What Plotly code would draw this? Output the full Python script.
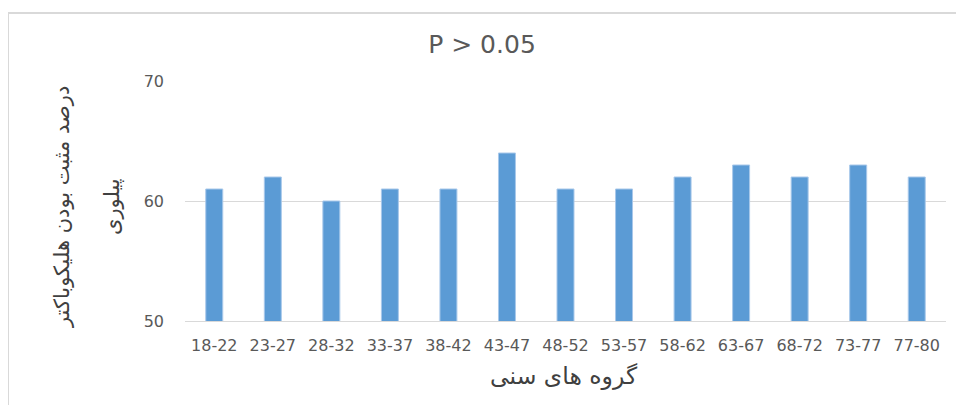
import plotly.graph_objects as go

categories = ["18-22", "23-27", "28-32", "33-37", "38-42", "43-47", "48-52",
              "53-57", "58-62", "63-67", "68-72", "73-77", "77-80"]
values = [61, 62, 60, 61, 61, 64, 61, 61, 62, 63, 62, 63, 62]
title_text = "P > 0.05"
x_title = "گروه های سنی"
y_title_line1 = "درصد مثبت بودن هلیکوباکتر"
y_title_line2 = "پیلوری"

OFF = 8  # page body margin offset
W, H = 964 - OFF, 405 - OFF
ML, MR, MT, MB = 185 - OFF, 18, 81 - OFF, 84
PW = W - ML - MR
PH = H - MT - MB

def px_x(x):
    return (x - OFF - ML) / PW

def px_y(y):
    return (H - MB - (y - OFF)) / PH

fig = go.Figure(go.Bar(
    x=categories, y=values,
    marker=dict(color="#5b9bd5", line=dict(color="#a8c8ea", width=1)),
    width=0.29,
))

fig.update_layout(
    width=W, height=H,
    margin=dict(l=ML, r=MR, t=MT, b=MB),
    paper_bgcolor="white", plot_bgcolor="white",
    showlegend=False,
    font=dict(family="DejaVu Sans", color="#595959"),
    title=dict(text=title_text, x=(482 - OFF) / W, xref="container", xanchor="center",
               y=1 - (44 - OFF) / H, yref="container", yanchor="middle",
               font=dict(size=25, color="#595959", family="DejaVu Sans")),
    xaxis=dict(type="category", showgrid=False, showline=True, linecolor="#d9d9d9",
               linewidth=1, ticks="", tickangle=0, tickfont=dict(size=16, color="#595959"),
               ticklabelstandoff=10),
    yaxis=dict(range=[50, 70], dtick=10, showgrid=True, gridcolor="#d9d9d9", gridwidth=1,
               zeroline=False, showline=False, ticks="",
               tickfont=dict(size=16, color="#595959"), ticklabelstandoff=20),
    annotations=[
        dict(text=x_title, xref="paper", yref="paper", x=px_x(564), y=px_y(376),
             xanchor="center", yanchor="middle", showarrow=False,
             font=dict(size=23.5, color="#404040", family="DejaVu Sans")),
        dict(text=y_title_line1, xref="paper", yref="paper", x=px_x(62), y=px_y(207),
             xanchor="center", yanchor="middle", showarrow=False, textangle=-90,
             font=dict(size=21, color="#404040", family="DejaVu Sans")),
        dict(text=y_title_line2, xref="paper", yref="paper", x=px_x(112), y=px_y(207),
             xanchor="center", yanchor="middle", showarrow=False, textangle=-90,
             font=dict(size=21, color="#404040", family="DejaVu Sans")),
    ],
    shapes=[
        dict(type="line", xref="paper", yref="paper", x0=px_x(8), x1=px_x(8),
             y0=px_y(13), y1=px_y(420), line=dict(color="#d9d9d9", width=2)),
        dict(type="line", xref="paper", yref="paper", x0=px_x(8), x1=px_x(980),
             y0=px_y(13), y1=px_y(13), line=dict(color="#d9d9d9", width=2)),
    ],
)

fig.write_html("out.html")
